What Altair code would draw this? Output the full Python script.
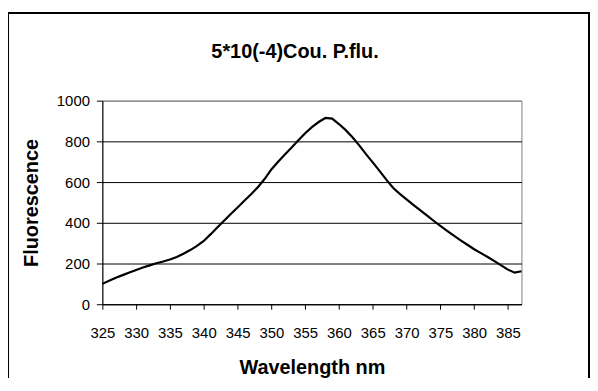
import altair as alt
import pandas as pd

wavelength = list(range(325, 388))
fluorescence = [100, 115, 130, 143, 156, 168, 180, 191, 201, 210,
                220, 232, 248, 266, 287, 311, 343, 377, 410, 443,
                475, 508, 540, 575, 615, 662, 700, 735, 770, 805,
                840, 870, 895, 915, 912, 885, 855, 820, 780, 737,
                697, 655, 612, 572, 542, 515, 488, 462, 436, 410,
                385, 360, 337, 314, 292, 270, 251, 232, 212, 191,
                170, 155, 162]
x_ticks = list(range(325, 386, 5))
y_ticks = [0, 200, 400, 600, 800, 1000]
chart_title = "5*10(-4)Cou. P.flu."

df = pd.DataFrame({"wl": wavelength, "fl": fluorescence})
title_df = pd.DataFrame({"t": [chart_title]})
FONT = "Liberation Sans"

line = alt.Chart(df).mark_line(color="black", strokeWidth=2.2).encode(
    x=alt.X("wl:Q",
            scale=alt.Scale(domain=[325, 387], nice=False, zero=False),
            axis=alt.Axis(values=x_ticks, title="Wavelength nm", grid=False,
                          format="d", labelOverlap=False, labelFlush=False,
                          tickSize=5, labelPadding=16, labelFontSize=15,
                          labelFont=FONT, labelColor="black",
                          titleFont=FONT, titleFontSize=20, titleFontWeight="bold",
                          titleColor="black", titleBaseline="middle",
                          titleX=211, titleY=64,
                          domainColor="black", tickColor="black")),
    y=alt.Y("fl:Q",
            scale=alt.Scale(domain=[0, 1000], nice=False),
            axis=alt.Axis(values=y_ticks, title="Fluorescence",
                          format="d", labelOverlap=False, labelFlush=False,
                          grid=True,
                          gridColor=alt.condition("datum.value == 1000", alt.value("#808080"), alt.value("black")),
                          gridWidth=1,
                          tickSize=6, labelPadding=7, labelFontSize=15,
                          labelFont=FONT, labelColor="black",
                          titleFont=FONT, titleFontSize=20, titleFontWeight="bold",
                          titleColor="black", titleBaseline="middle",
                          titleX=-71, titleY=102.5, titleAngle=-90,
                          domainColor="black", tickColor="black")),
)

frame = alt.Chart(df).mark_rect(fill=None, stroke="black", strokeWidth=1.5).encode(
    x=alt.value(-95), x2=alt.value(490), y=alt.value(-88), y2=alt.value(300)
)

title_text = alt.Chart(title_df).mark_text(
    font=FONT, fontSize=20, fontWeight="bold", color="black",
    align="center", baseline="middle"
).encode(x=alt.value(194), y=alt.value(-49), text="t:N")

chart = alt.layer(frame, line, title_text).properties(
    width=422, height=205,
    autosize=alt.AutoSizeParams(type="none"),
    padding={"left": 95, "top": 92, "right": 69, "bottom": 73},
).configure_view(stroke="#808080", strokeWidth=1)

chart.save("out.html", embed_options={"renderer": "svg", "actions": False})
